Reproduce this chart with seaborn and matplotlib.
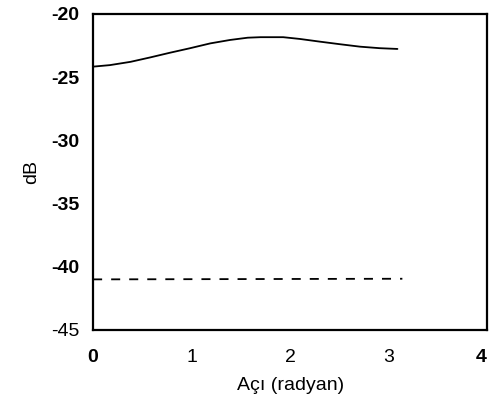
import numpy as np
import pandas as pd
import matplotlib
matplotlib.use("Agg")
import matplotlib.pyplot as plt
import seaborn as sns

# Curve (angle in radians, level in dB)
angle = [0.0, 0.17, 0.38, 0.58, 0.78, 0.98, 1.19, 1.39, 1.57, 1.70,
         1.93, 2.10, 2.30, 2.51, 2.71, 2.91, 3.09]
upper_db = [-24.17, -24.05, -23.79, -23.44, -23.07, -22.72, -22.33, -22.06, -21.88, -21.84,
            -21.84, -21.98, -22.19, -22.40, -22.59, -22.71, -22.77]
lower_angle = [0.0, 3.14]
lower_db = [-41.0, -40.95]

df_up = pd.DataFrame({"angle": angle, "db": upper_db})
df_low = pd.DataFrame({"angle": lower_angle, "db": lower_db})

sns.set_style("white")
plt.rcParams["font.family"] = ["Liberation Sans", "DejaVu Sans"]
plt.rcParams["axes.unicode_minus"] = False
plt.rcParams["text.color"] = "black"
plt.rcParams["axes.labelcolor"] = "black"
plt.rcParams["xtick.color"] = "black"
plt.rcParams["ytick.color"] = "black"

fig = plt.figure(figsize=(4.9, 3.98), dpi=100)
ax = fig.add_axes([0.19, 0.171, 0.804, 0.794])

sns.lineplot(data=df_up, x="angle", y="db", ax=ax, color="black", lw=1.3)
sns.lineplot(data=df_low, x="angle", y="db", ax=ax, color="black", lw=1.3,
             linestyle=(0, (5, 5)))

ax.set_xlim(0, 4)
ax.set_ylim(-45, -20)
ax.set_xticks([0, 1, 2, 3, 4])
ax.set_yticks([-45, -40, -35, -30, -25, -20])
ax.tick_params(axis="x", length=0, labelsize=14, pad=14)
ax.tick_params(axis="y", length=0, labelsize=14, pad=10)
for lab in ax.get_yticklabels()[1:]:
    lab.set_fontweight("bold")
xl = ax.get_xticklabels()
xl[0].set_fontweight("bold")
xl[-1].set_fontweight("bold")
xl[-1].set_horizontalalignment("right")
ax.set_xlabel("Açı (radyan)", fontsize=14, labelpad=8)
ax.set_ylabel("dB", fontsize=14, labelpad=8)
for s in ax.spines.values():
    s.set_color("black")
    s.set_linewidth(1.6)

fig.savefig("out.png", dpi=100)
